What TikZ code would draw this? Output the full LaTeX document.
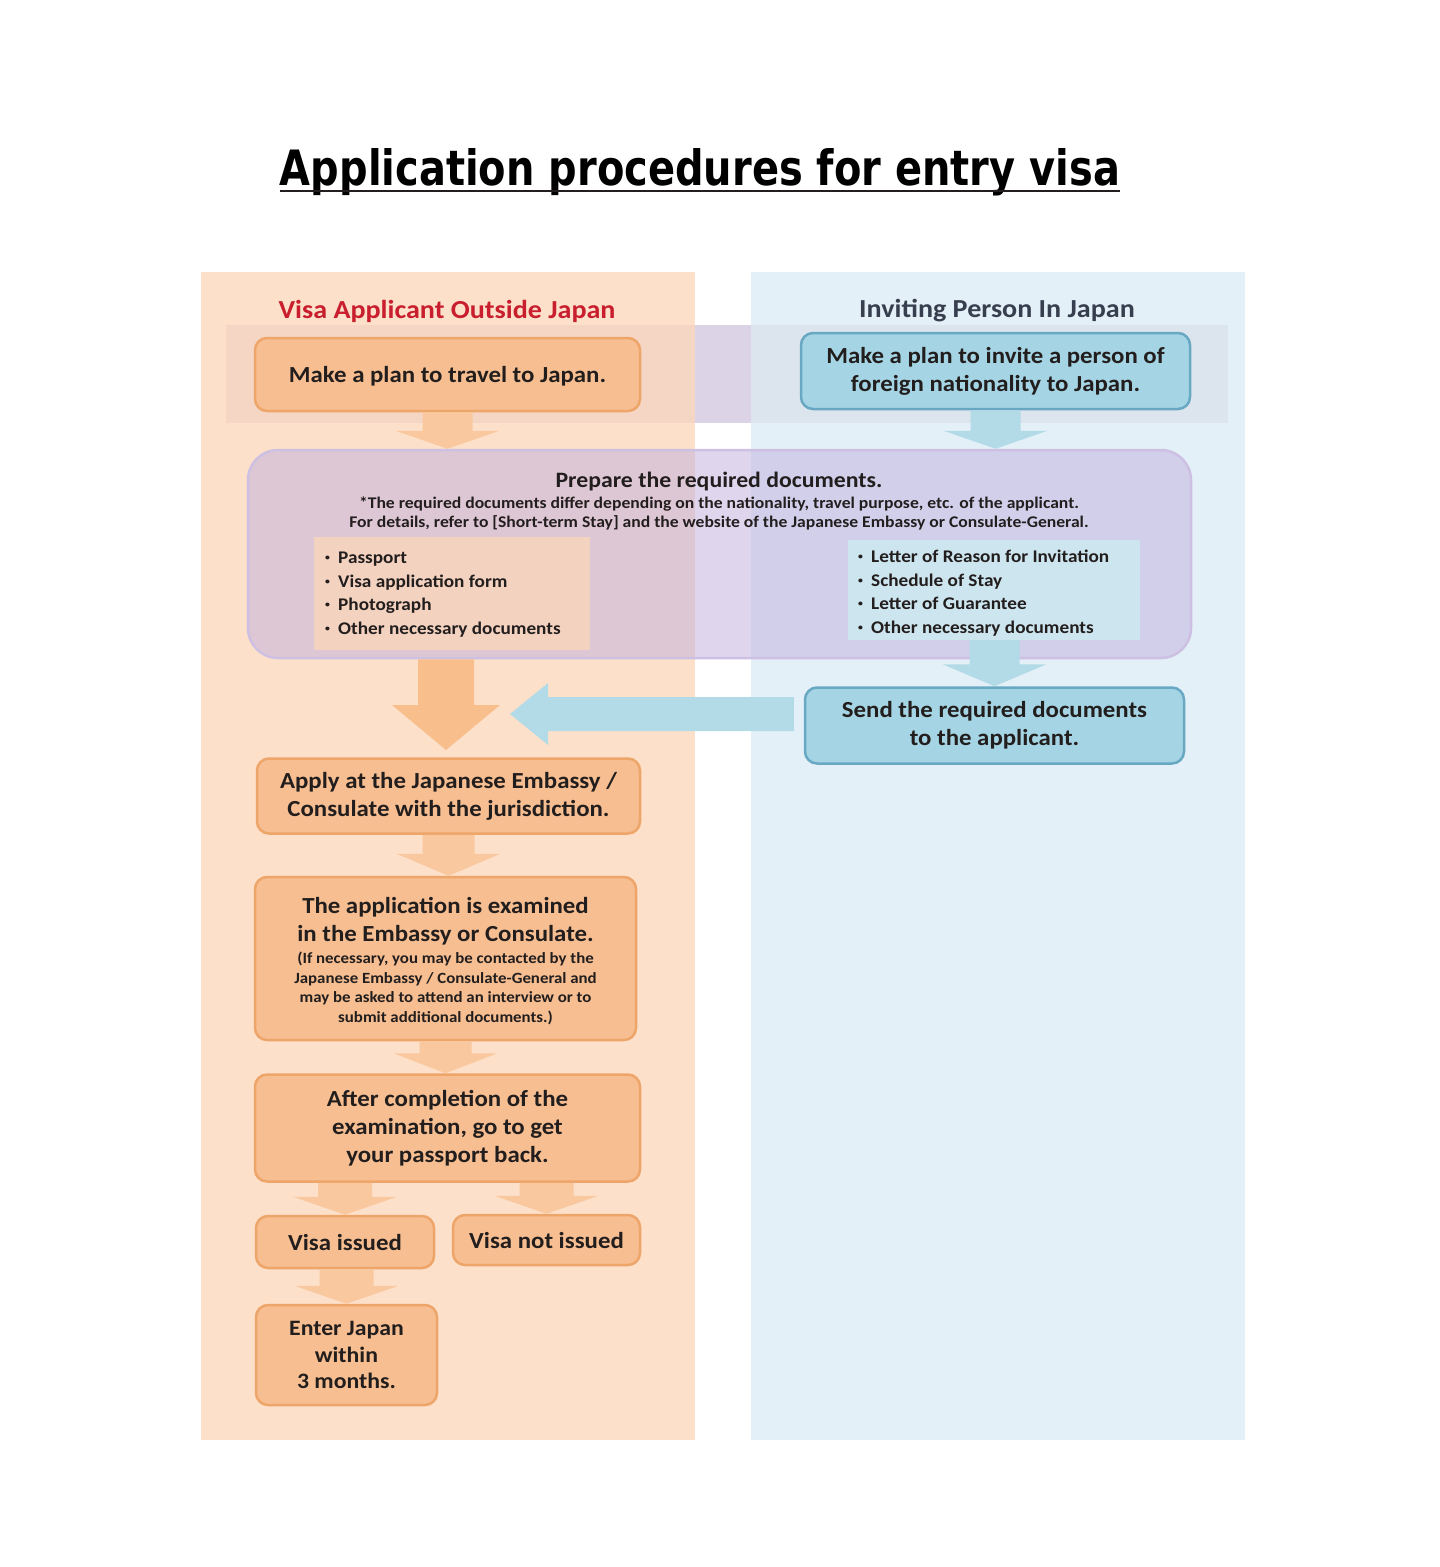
\documentclass[tikz,border=0pt]{standalone}
\usepackage{fontspec}
\usepackage{graphicx}
\setmainfont{Carlito}[FakeStretch=1.08]
\newfontfamily\titlefont{DejaVu Sans}
\usetikzlibrary{calc}
\definecolor{leftbg}{RGB}{253,224,202}
\definecolor{rightbg}{RGB}{228,240,248}
\definecolor{bandL}{RGB}{245,214,196}
\definecolor{bandM}{RGB}{220,212,230}
\definecolor{bandR}{RGB}{220,229,238}
\definecolor{ofill}{RGB}{246,190,145}
\definecolor{oborder}{RGB}{238,165,105}
\definecolor{bfill}{RGB}{165,213,228}
\definecolor{bborder}{RGB}{105,168,195}
\definecolor{oarrow}{RGB}{249,200,158}
\definecolor{obig}{RGB}{248,190,140}
\definecolor{barrow}{RGB}{178,219,231}
\definecolor{prepfill}{RGB}{192,175,222}
\definecolor{prepborder}{RGB}{205,192,226}
\definecolor{listLc}{RGB}{243,210,192}
\definecolor{listRc}{RGB}{205,229,239}
\definecolor{headred}{RGB}{200,30,45}
\definecolor{headgray}{RGB}{55,62,78}
\definecolor{txt}{RGB}{35,30,30}
% block arrow pointing down: #1 colour, #2 source point (gives top y), #3 tip point, #4 half shaft, #5 half head, #6 head length
\newcommand\dnarrow[6]{\fill[#1] let \p1=(#2), \p2=(#3) in
  (\x2-#4,\y1) -- (\x2+#4,\y1) -- (\x2+#4,\y2+#6) -- (\x2+#5,\y2+#6) -- (\x2,\y2)
  -- (\x2-#5,\y2+#6) -- (\x2-#4,\y2+#6) -- cycle;}
\newcommand\bul{\makebox[13pt][l]{\fontsize{9}{9}\selectfont\raisebox{3pt}{•}}}
\begin{document}
\begin{tikzpicture}[x=1pt,y=-1pt,
  obox/.style={draw=oborder, fill=ofill, line width=2.5pt, rounded corners=12pt, inner sep=0pt,
    align=center, text=txt, font=\bfseries\fontsize{23}{28}\selectfont},
  bbox/.style={obox, draw=bborder, fill=bfill},
  head/.style={font=\bfseries\fontsize{26}{30}\selectfont, anchor=base, inner sep=0pt},
  note/.style={font=\bfseries\fontsize{16.3}{19.5}\selectfont, text=txt, anchor=base, inner sep=0pt},
  item/.style={font=\bfseries\fontsize{17.8}{22}\selectfont, text=txt, anchor=base west, inner sep=0pt},
  plain/.style={text=txt, inner sep=0pt, anchor=base}]
\useasboundingbox (0,0) rectangle (1440,1567);
\fill[white] (0,0) rectangle (1440,1567);
% title
\node[inner sep=0pt, anchor=base] (title) at (700,185)
  {\resizebox{840pt}{37pt}{\titlefont\bfseries Application procedures for entry visa}};
\draw[line width=2.5pt, txt] ($(title.base west)+(0,6)$) -- ($(title.base east)+(0,6)$);
% column backgrounds
\fill[leftbg] (201,272) rectangle (695,1440);
\fill[rightbg] (751,272) rectangle (1245,1440);
\fill[bandL] (226,325) rectangle (695,423);
\fill[bandM] (695,325) rectangle (751,423);
\fill[bandR] (751,325) rectangle (1228,423);
% headings
\node[head, text=headred] (hL) at (447,318) {Visa Applicant Outside Japan};
\node[head, text=headgray] (hR) at (997,317) {Inviting Person In Japan};
% top boxes
\node[obox, minimum width=385pt, minimum height=73pt, text depth=0pt] (plan) at (447.5,374.5) {Make a plan to travel to Japan.};
\node[bbox, minimum width=389pt, minimum height=76pt] (invite) at (995.5,371) {Make a plan to invite a person of\\foreign nationality to Japan.};
% prepare box
\node[draw=prepborder, line width=2.5pt, fill=prepfill, fill opacity=0.5, rounded corners=30pt,
  minimum width=943pt, minimum height=208pt, inner sep=0pt] (prep) at (719.5,554) {};
\dnarrow{oarrow}{plan.south}{plan.south |- prep.north}{25}{52}{18}
\dnarrow{barrow}{invite.south}{invite.south |- prep.north}{25}{52}{18}
\node[plain, font=\bfseries\fontsize{22}{26}\selectfont] (prept) at (719,487) {Prepare the required documents.};
\node[note] (n1) at (719,508) {*The required documents differ depending on the nationality, travel purpose, etc. of the applicant.};
\node[note] (n2) at (719,527.5) {For details, refer to [Short-term Stay] and the website of the Japanese Embassy or Consulate-General.};
\node[fill=listLc, minimum width=276pt, minimum height=113pt, inner sep=0pt] (listL) at (452,593.5) {};
\node[fill=listRc, minimum width=292pt, minimum height=100pt, inner sep=0pt] (listR) at (994,590) {};
\foreach \t [count=\i] in {Passport, Visa application form, Photograph, Other necessary documents}
  \node[item] (li\i) at (325,540.5+23.4*\i) {\bul\t};
\foreach \t [count=\i] in {Letter of Reason for Invitation, Schedule of Stay, Letter of Guarantee, Other necessary documents}
  \node[item] (ri\i) at (858,539.5+23.4*\i) {\bul\t};
% send box
\node[bbox, minimum width=379pt, minimum height=76pt] (send) at (994.5,725.5) {Send the required documents\\to the applicant.};
\dnarrow{barrow}{listR.south}{send.north}{25}{52}{22}
% apply box
\node[obox, minimum width=383pt, minimum height=75pt] (apply) at (448.5,796) {Apply at the Japanese Embassy /\\Consulate with the jurisdiction.};
\coordinate (bigtip) at (446,750);
\dnarrow{obig}{prep.south}{bigtip}{28}{54}{45}
% blue arrow to the left
\coordinate (lefttip) at (510,714);
\fill[barrow] let \p1=(send.west), \p2=(lefttip) in
  (\x1-10,\y2+17) -- (\x2+38,\y2+17) -- (\x2+38,\y2+31) -- (\x2,\y2) -- (\x2+38,\y2-31)
  -- (\x2+38,\y2-17) -- (\x1-10,\y2-17) -- cycle;
% examined box
\node[obox, minimum width=381pt, minimum height=163pt] (exam) at (445.5,958.5) {};
\node[plain, font=\bfseries\fontsize{23}{28}\selectfont, align=center, anchor=north] (examt) at (445.5,897)
  {The application is examined\\in the Embassy or Consulate.};
\node[plain, font=\bfseries\fontsize{15.6}{19.6}\selectfont, align=center, anchor=north] (examn) at (445.5,952)
  {(If necessary, you may be contacted by the\\Japanese Embassy / Consulate-General and\\may be asked to attend an interview or to\\submit additional documents.)};
\dnarrow{oarrow}{apply.south}{apply.south |- exam.north}{26}{52}{22}
% after box
\node[obox, minimum width=385pt, minimum height=107pt] (after) at (447.5,1128) {After completion of the\\examination, go to get\\your passport back.};
\dnarrow{oarrow}{exam.south}{exam.south |- after.north}{26}{52}{20}
% visa boxes
\node[obox, minimum width=178pt, minimum height=52pt] (issued) at (345,1242) {Visa issued};
\node[obox, minimum width=187pt, minimum height=50pt] (notissued) at (546.5,1240) {Visa not issued};
\dnarrow{oarrow}{after.south}{issued.north}{27}{52}{18}
\dnarrow{oarrow}{after.south}{notissued.north}{27}{52}{18}
% enter box
\node[obox, minimum width=181pt, minimum height=100pt, font=\bfseries\fontsize{22}{26.5}\selectfont] (enter) at (346.5,1355) {Enter Japan\\within\\3 months.};
\dnarrow{oarrow}{issued.south}{enter.north}{27}{52}{18}
\end{tikzpicture}
\end{document}
